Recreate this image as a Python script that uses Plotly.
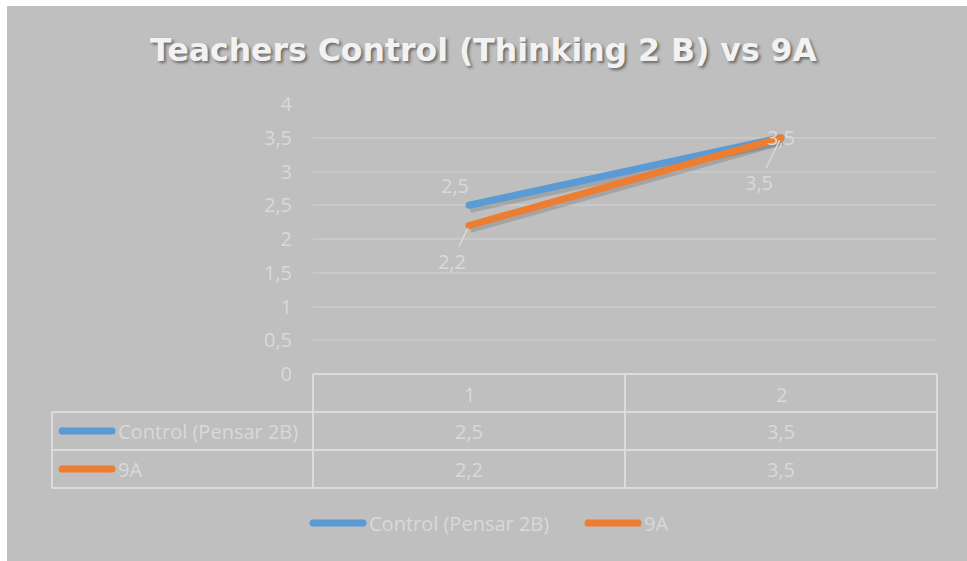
import plotly.graph_objects as go

# ---- data ----
categories = [1, 2]
series_names = ["Control (Pensar 2B)", "9A"]
control_vals = [2.5, 3.5]
group_9a_vals = [2.2, 3.5]
y_ticks = [0, 0.5, 1, 1.5, 2, 2.5, 3, 3.5, 4]

W, H = 967, 561
BG = "#bfbfbf"
TXT = "#d9d9d9"
GRID = "#c9c9c9"
BLUE = "#5b9bd5"
ORANGE = "#ed7d31"
FONT = "Open Sans"


def px(x):
    return x / W


def py(y):
    return 1 - y / H


def fmt(v):
    s = ("%g" % v)
    return s.replace(".", ",")


# plot area in pixels
PL, PR, PT, PB = 313, 937, 104, 374
X_RANGE = [0.5, 2.5]
Y_RANGE = [0, 4]
dx_per_px = (X_RANGE[1] - X_RANGE[0]) / (PR - PL)
dy_per_px = (Y_RANGE[1] - Y_RANGE[0]) / (PB - PT)

fig = go.Figure()

series = [(series_names[0], control_vals, BLUE), (series_names[1], group_9a_vals, ORANGE)]

# soft drop shadow under each line
for name, vals, col in series:
    fig.add_trace(go.Scatter(
        x=[c + 1 * dx_per_px for c in categories],
        y=[v - 3 * dy_per_px for v in vals],
        mode="lines", line=dict(color="rgba(70,70,70,0.22)", width=9),
        hoverinfo="skip", showlegend=False))

for name, vals, col in series:
    fig.add_trace(go.Scatter(
        x=categories, y=vals, name=name, mode="lines+markers",
        line=dict(color=col, width=7),
        marker=dict(color=col, size=7, line=dict(width=0)),
        showlegend=False))

annotations = []
shapes = []

# gray chart background
shapes.append(dict(type="rect", xref="paper", yref="paper",
                   x0=px(7), x1=1, y0=0, y1=py(6),
                   fillcolor=BG, line=dict(width=0), layer="below"))

lab_font = dict(family=FONT, size=20, color=TXT)

# data labels: control series
annotations.append(dict(x=categories[0], y=control_vals[0], xref="x", yref="y",
                        text=fmt(control_vals[0]), showarrow=False,
                        xshift=-14, yshift=20, font=lab_font))
annotations.append(dict(x=categories[1], y=control_vals[1], xref="x", yref="y",
                        text=fmt(control_vals[1]), showarrow=False,
                        xshift=0, yshift=0, font=lab_font))
# data labels: 9A series, with leader lines
annotations.append(dict(x=categories[0], y=group_9a_vals[0], xref="x", yref="y",
                        text=fmt(group_9a_vals[0]), showarrow=True, arrowhead=0,
                        arrowwidth=1.5, arrowcolor=TXT, ax=-17, ay=36,
                        standoff=3, font=lab_font))
annotations.append(dict(x=categories[1], y=group_9a_vals[1], xref="x", yref="y",
                        text=fmt(group_9a_vals[1]), showarrow=True, arrowhead=0,
                        arrowwidth=1.5, arrowcolor=TXT, ax=-22, ay=45,
                        standoff=3, font=lab_font))

# ---- data table under the plot ----
LINEC = "#dcdcdc"
TL, TC1, TC2, TR = 52, 313, 625, 937
R0, R1, R2, R3 = 374, 412, 450, 488


def hline(x0, x1, y):
    shapes.append(dict(type="line", xref="paper", yref="paper",
                       x0=px(x0), x1=px(x1), y0=py(y), y1=py(y),
                       line=dict(color=LINEC, width=2)))


def vline(x, y0, y1):
    shapes.append(dict(type="line", xref="paper", yref="paper",
                       x0=px(x), x1=px(x), y0=py(y0), y1=py(y1),
                       line=dict(color=LINEC, width=2)))


def label(x, y, text, anchor="center"):
    annotations.append(dict(x=px(x), y=py(y), xref="paper", yref="paper",
                            text=text, showarrow=False, xanchor=anchor,
                            yanchor="middle", font=lab_font))


def line_swatch(x0, x1, y, col):
    shapes.append(dict(type="line", xref="paper", yref="paper",
                       x0=px(x0 + 3), x1=px(x1 - 3), y0=py(y), y1=py(y),
                       line=dict(color=col, width=7)))
    for cx in (x0 + 3, x1 - 3):
        shapes.append(dict(type="circle", xref="paper", yref="paper",
                           x0=px(cx - 3.5), x1=px(cx + 3.5),
                           y0=py(y + 3.5), y1=py(y - 3.5),
                           fillcolor=col, line=dict(width=0)))


hline(TC1, TR, R0)
hline(TL, TR, R1)
hline(TL, TR, R2)
hline(TL, TR, R3)
vline(TL, R1, R3)
vline(TC1, R0, R3)
vline(TC2, R0, R3)
vline(TR, R0, R3)

col_centers = [(TC1 + TC2) / 2, (TC2 + TR) / 2]
row_centers = [(R0 + R1) / 2, (R1 + R2) / 2, (R2 + R3) / 2]

for c, cx in zip(categories, col_centers):
    label(cx, row_centers[0] + 1, str(c))

for r, (name, vals, col) in enumerate(series):
    ry = row_centers[r + 1]
    line_swatch(59, 115, ry, col)
    label(116, ry, name, "left")
    for v, cx in zip(vals, col_centers):
        label(cx, ry, fmt(v))

# ---- legend at the bottom ----
LY = 523
leg_items = [(series_names[0], BLUE, 310), (series_names[1], ORANGE, 585)]
for name, col, lx in leg_items:
    line_swatch(lx, lx + 56, LY, col)
    label(lx + 57, LY, name, "left")

fig.update_layout(
    width=W, height=H,
    margin=dict(l=0, r=0, t=0, b=0, pad=0, autoexpand=False),
    paper_bgcolor="white",
    plot_bgcolor="rgba(0,0,0,0)",
    title=dict(text="<b>Teachers Control (Thinking 2 B) vs 9A</b>",
               x=0.5, xanchor="center", y=py(50), yanchor="middle", automargin=False,
               font=dict(family="DejaVu Sans", size=31.5, color="#f2f2f2",
                         shadow="2px 2px 3px rgba(0,0,0,0.45)")),
    xaxis=dict(domain=[px(PL), px(PR)], range=X_RANGE, showgrid=False, automargin=False,
               zeroline=False, showticklabels=False, showline=False, fixedrange=True),
    yaxis=dict(domain=[py(PB), py(PT)], range=Y_RANGE, tickvals=y_ticks, automargin=False,
               ticktext=[fmt(t) for t in y_ticks], showgrid=True, gridcolor=GRID,
               gridwidth=1.5, zeroline=False, showline=False, ticks="",
               ticklabelstandoff=20, tickfont=dict(family=FONT, size=20, color=TXT)),
    shapes=shapes,
    annotations=annotations,
    showlegend=False,
)

fig.write_html("out.html")
